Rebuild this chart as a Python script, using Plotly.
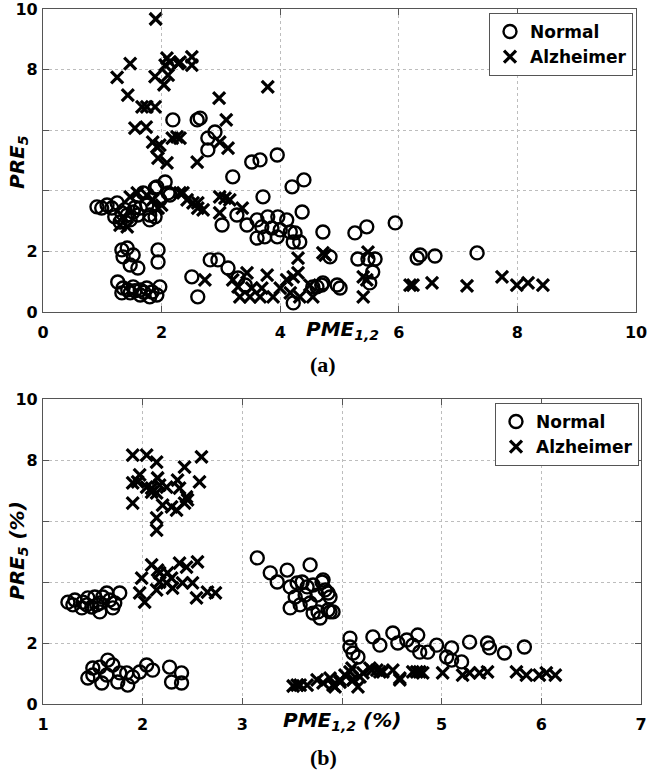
import plotly.graph_objects as go

# ---------------- Panel (a) data ----------------
a_normal_x = [0.91, 0.99, 1.08, 1.16, 1.25, 1.21, 1.33, 1.42, 1.52, 1.64, 1.75, 1.80, 1.89, 1.80, 1.47, 1.30,
              1.69, 1.89, 2.06, 2.14, 1.92, 2.11, 1.97, 1.55, 1.60, 1.38,
              1.33, 1.42, 1.35, 1.52, 1.47, 1.60, 1.94, 1.94, 1.26, 1.35, 1.43, 1.52, 1.64, 1.75, 1.84,
              1.92, 1.97, 1.33, 1.47, 1.64, 1.80, 1.55, 1.70,
              2.19, 2.60, 2.65, 2.90, 2.78, 2.78, 3.20, 3.52, 3.66, 3.95, 4.20, 4.40, 3.71, 4.37, 3.02,
              3.27, 3.44, 3.61, 3.79, 3.96, 4.11, 3.69, 3.86, 4.00, 4.17, 4.25, 3.61, 3.74, 3.95, 4.22,
              4.33, 4.72, 2.82, 2.95, 3.12, 2.51, 2.61, 3.29, 3.41, 4.22, 4.62, 4.72, 4.96, 5.01, 4.55,
              4.70, 5.26, 5.46, 5.94, 4.84, 5.31, 5.48, 5.60, 5.56, 5.51, 6.31, 6.36, 6.61, 7.32]
a_normal_y = [3.47, 3.43, 3.53, 3.43, 3.60, 3.14, 3.27, 3.20, 3.30, 3.43, 3.53, 3.20, 3.14, 3.04, 3.04, 2.97,
              3.93, 4.09, 4.29, 3.86, 4.13, 3.93, 3.70, 3.45, 3.20, 3.38,
              2.05, 2.11, 1.82, 1.88, 1.55, 1.45, 2.05, 1.65, 0.99, 0.79, 0.73, 0.83, 0.73, 0.79, 0.66,
              0.56, 0.83, 0.63, 0.63, 0.56, 0.50, 0.70, 0.65,
              6.34, 6.34, 6.40, 5.94, 5.74, 5.35, 4.46, 4.95, 5.02, 5.18, 4.13, 4.36, 3.80, 3.30, 2.87,
              3.20, 2.87, 3.04, 3.14, 3.14, 3.04, 2.81, 2.77, 2.71, 2.64, 2.61, 2.44, 2.48, 2.48, 2.31,
              2.31, 2.64, 1.72, 1.72, 1.45, 1.16, 0.50, 1.12, 0.89, 0.30, 0.83, 0.96, 0.89, 0.79, 0.83,
              0.89, 2.61, 2.81, 2.94, 1.82, 1.75, 1.75, 1.75, 1.32, 0.96, 1.78, 1.88, 1.85, 1.95]

a_alz_x = [1.90, 1.47, 1.25, 2.09, 2.14, 2.06, 2.31, 2.28, 2.51, 2.51, 1.89, 2.11, 2.04, 3.79, 1.43,
           1.67, 1.75, 1.89, 2.97, 3.09, 1.55, 1.74, 1.85, 1.92, 1.97, 2.18, 2.26, 2.31, 2.98, 3.12,
           1.94, 2.09, 2.60,
           2.36, 2.43, 2.61, 2.70, 2.98, 3.07, 3.15, 2.98, 3.36,
           1.47, 1.59, 1.75, 1.85, 1.30, 1.42, 2.00, 1.94, 1.35, 2.31, 2.53, 2.61,
           4.72, 4.30, 2.73, 3.20, 3.44, 3.29, 3.52, 3.69, 3.78, 3.32, 3.49, 3.66, 3.88, 4.00, 4.11,
           4.22, 4.30, 4.17, 4.33, 4.50, 4.55,
           5.48, 5.40, 5.46, 5.40, 6.19, 6.24, 6.56, 7.15, 7.74, 7.99, 8.18, 8.43, 4.76]
a_alz_y = [9.67, 8.20, 7.74, 8.38, 8.25, 8.15, 8.25, 8.20, 8.42, 8.15, 7.77, 7.82, 7.50, 7.43, 7.16,
           6.77, 6.77, 6.77, 7.06, 6.34, 6.07, 6.10, 5.61, 5.45, 5.51, 5.74, 5.78, 5.74, 5.61, 5.41,
           5.08, 4.92, 4.95,
           3.93, 3.70, 3.60, 3.37, 3.80, 3.76, 3.70, 3.27, 3.43,
           3.80, 3.93, 3.86, 3.70, 2.87, 2.81, 3.53, 3.43, 3.14, 3.93, 3.60, 3.43,
           1.95, 1.78, 1.06, 1.06, 1.29, 0.83, 0.79, 0.79, 1.22, 0.50, 0.50, 0.50, 0.50, 0.79, 1.06,
           1.16, 1.29, 0.63, 0.50, 0.89, 0.50,
           1.98, 1.16, 1.06, 0.50, 0.89, 0.89, 0.96, 0.86, 1.16, 0.89, 0.96, 0.89, 1.88]

# ---------------- Panel (b) data ----------------
b_normal_x = [1.25, 1.32, 1.40, 1.45, 1.52, 1.49, 1.57, 1.64, 1.67, 1.72, 1.77, 1.39, 1.57, 1.70, 1.30,
              1.60, 1.44, 1.54,
              1.45, 1.50, 1.57, 1.65, 1.70, 1.77, 1.84, 1.59, 1.75, 1.85, 1.90, 1.97, 2.04, 2.10, 2.27,
              2.29, 2.39, 2.39, 1.50, 1.64,
              3.15, 3.28, 3.35, 3.45, 3.68, 3.48, 3.55, 3.60, 3.65, 3.71, 3.81, 3.83, 3.88, 3.75, 3.68,
              3.58, 3.48, 3.76, 3.86, 3.91, 3.78, 3.53, 3.63, 3.80, 3.86, 3.88, 3.71,
              4.08, 4.08, 4.11, 4.16, 4.31, 4.38, 4.51, 4.56, 4.65, 4.71, 4.76, 4.78, 4.86, 4.95, 5.10,
              5.10, 5.20, 5.28, 5.46, 5.48, 5.63, 5.83, 5.05]
b_normal_y = [3.34, 3.41, 3.34, 3.48, 3.51, 3.18, 3.31, 3.64, 3.41, 3.31, 3.64, 3.15, 3.02, 3.15, 3.25,
              3.51, 3.25, 3.25,
              0.85, 1.18, 1.21, 1.44, 1.28, 1.02, 1.02, 0.69, 0.72, 0.62, 0.89, 1.05, 1.28, 1.11, 1.21,
              0.72, 1.02, 0.69, 0.95, 0.95,
              4.79, 4.30, 4.00, 4.39, 4.56, 3.84, 3.97, 4.00, 3.84, 3.90, 4.07, 3.74, 3.51, 3.57, 3.31,
              3.25, 3.15, 3.02, 3.08, 3.02, 2.82, 3.51, 3.57, 4.00, 3.64, 3.02, 2.98,
              2.16, 1.87, 1.67, 1.54, 2.20, 1.93, 2.33, 2.00, 2.10, 1.93, 2.26, 1.70, 1.70, 1.93, 1.84,
              1.44, 1.38, 2.03, 2.00, 1.84, 1.67, 1.87, 1.54]

b_alz_x = [1.90, 2.04, 2.14, 2.42, 2.59, 1.97, 1.90, 1.95, 2.04, 2.09, 2.15, 2.17, 2.24, 2.35, 2.37,
           2.44, 2.45, 2.57, 2.09, 2.14, 1.90, 2.20, 2.29, 2.34, 2.42, 2.14, 2.14,
           1.99, 2.09, 2.15, 2.25, 2.37, 2.44, 2.55, 1.97, 2.02, 2.14, 2.17, 2.24, 2.30, 2.40, 2.50,
           2.54, 2.65, 2.73, 2.17, 2.29,
           3.51, 3.55, 3.58, 3.65, 3.75, 3.81, 3.88, 3.93, 3.98, 4.03, 4.08, 4.11, 4.16, 4.21, 4.28,
           4.35, 4.41, 4.51, 4.58, 4.71, 4.78, 4.75, 4.81, 5.01, 5.21, 5.28, 5.38, 5.46, 5.75, 5.85,
           5.98, 6.05, 6.14, 4.10, 4.11, 4.30, 4.38, 4.58, 3.91, 3.98, 4.18]
b_alz_y = [8.16, 8.16, 7.93, 7.77, 8.10, 7.51, 7.25, 7.28, 7.11, 7.08, 7.41, 7.18, 7.11, 7.34, 7.08,
           6.79, 6.69, 7.28, 6.95, 6.92, 6.59, 6.52, 6.46, 6.36, 6.59, 6.10, 5.70,
           4.13, 4.56, 4.39, 4.30, 4.62, 4.49, 4.66, 3.64, 3.34, 3.74, 4.00, 3.97, 3.80, 3.97, 3.97,
           3.48, 3.67, 3.64, 4.30, 4.13,
           0.59, 0.62, 0.62, 0.62, 0.79, 0.69, 0.85, 0.56, 0.79, 0.95, 1.05, 0.79, 0.56, 1.02, 1.18,
           1.11, 1.05, 1.11, 0.79, 1.05, 1.05, 1.05, 1.02, 1.02, 0.95, 1.02, 1.02, 1.05, 1.05, 0.95,
           0.95, 1.02, 0.95, 1.18, 0.79, 1.11, 1.05, 0.85, 0.62, 0.72, 0.89]

a_xticks = [0, 2, 4, 6, 8, 10]
a_xticktext = ["0", "2", "4", "6", "8", "10"]
y_ticks = [0, 2, 4, 6, 8, 10]
y_ticktext = ["0", "2", "", "", "8", "10"]
b_xticks = [1, 2, 3, 4, 5, 6, 7]
b_xticktext = ["1", "2", "3", "", "5", "6", "7"]

W, H = 647, 771
FONT = "DejaVu Sans"

def px_x(p):
    return p / W

def px_y(p):
    return 1 - p / H

def bold(labels):
    return [f"<b>{t}</b>" if t else "" for t in labels]

circle = dict(symbol="circle-open", size=13, color="black", line=dict(width=2.4, color="black"))
cross = dict(symbol="x-thin-open", size=12, color="black", line=dict(width=3.2, color="black"))

fig = go.Figure()
fig.add_trace(go.Scatter(x=a_normal_x, y=a_normal_y, mode="markers", name="<b>Normal</b>",
                         marker=circle, xaxis="x", yaxis="y", legend="legend"))
fig.add_trace(go.Scatter(x=a_alz_x, y=a_alz_y, mode="markers", name="<b>Alzheimer</b>",
                         marker=cross, xaxis="x", yaxis="y", legend="legend"))
fig.add_trace(go.Scatter(x=b_normal_x, y=b_normal_y, mode="markers", name="<b>Normal</b>",
                         marker=circle, xaxis="x2", yaxis="y2", legend="legend2"))
fig.add_trace(go.Scatter(x=b_alz_x, y=b_alz_y, mode="markers", name="<b>Alzheimer</b>",
                         marker=cross, xaxis="x2", yaxis="y2", legend="legend2"))

axis_common = dict(
    showline=True, linecolor="#555", linewidth=1.3, mirror="ticks",
    ticks="inside", ticklen=6, tickcolor="#555", tickwidth=1,
    showgrid=True, gridcolor="#bdbdbd", griddash="dot", gridwidth=1,
    zeroline=False, tickfont=dict(family=FONT, size=16, color="black"),
    fixedrange=True, automargin=False, ticklabeloverflow="allow",
)

legend_common = dict(
    xanchor="right", yanchor="top",
    bordercolor="#555", borderwidth=1, bgcolor="white",
    font=dict(family=FONT, size=17, color="black"),
    itemwidth=30, tracegroupgap=0,
)

fig.update_layout(
    width=W, height=H, margin=dict(l=0, r=0, t=0, b=0, pad=0, autoexpand=False),
    paper_bgcolor="white", plot_bgcolor="white",
    font=dict(family=FONT, color="black"),
    xaxis=dict(axis_common, domain=[px_x(43), px_x(636)], range=[0, 10],
               tickvals=a_xticks, ticktext=bold(a_xticktext),
               anchor="y", ticklabelstandoff=6),
    yaxis=dict(axis_common, domain=[px_y(312), px_y(9)], range=[0, 10],
               tickvals=y_ticks, ticktext=bold(y_ticktext),
               anchor="x", ticklabelstandoff=1),
    xaxis2=dict(axis_common, domain=[px_x(43), px_x(641)], range=[1, 7],
                tickvals=b_xticks, ticktext=bold(b_xticktext),
                anchor="y2", ticklabelstandoff=6),
    yaxis2=dict(axis_common, domain=[px_y(704), px_y(399)], range=[0, 10],
                tickvals=y_ticks, ticktext=bold(y_ticktext),
                anchor="x2", ticklabelstandoff=1),
    legend=dict(legend_common, x=px_x(633), y=px_y(13)),
    legend2=dict(legend_common, x=px_x(639), y=px_y(403)),
    showlegend=True,
)

ann_font = dict(family=FONT, size=20, color="black")
fig.add_annotation(text="<b><i>PME<sub>1,2</sub></i></b>", x=px_x(342), y=px_y(315),
                   xref="paper", yref="paper", xanchor="center", yanchor="top",
                   showarrow=False, font=ann_font)
fig.add_annotation(text="<b><i>PRE<sub>5</sub></i></b>", x=px_x(18), y=px_y(162),
                   xref="paper", yref="paper", xanchor="center", yanchor="middle",
                   textangle=-90, showarrow=False, font=ann_font)
fig.add_annotation(text="<b><i>PME<sub>1,2</sub> (%)</i></b>", x=px_x(342), y=px_y(706),
                   xref="paper", yref="paper", xanchor="center", yanchor="top",
                   showarrow=False, font=ann_font)
fig.add_annotation(text="<b><i>PRE<sub>5</sub> (%)</i></b>", x=px_x(18), y=px_y(551),
                   xref="paper", yref="paper", xanchor="center", yanchor="middle",
                   textangle=-90, showarrow=False, font=ann_font)

cap_font = dict(family="Liberation Serif", size=22, color="black")
fig.add_annotation(text="<b>(a)</b>", x=px_x(323), y=px_y(364), xref="paper", yref="paper",
                   xanchor="center", yanchor="middle", showarrow=False, font=cap_font)
fig.add_annotation(text="<b>(b)</b>", x=px_x(323), y=px_y(757), xref="paper", yref="paper",
                   xanchor="center", yanchor="middle", showarrow=False, font=cap_font)

# remove the default page margin so figure pixels line up with the window
fig.write_html("out.html", config={"displayModeBar": False},
               post_script="document.body.style.margin='0px';")
